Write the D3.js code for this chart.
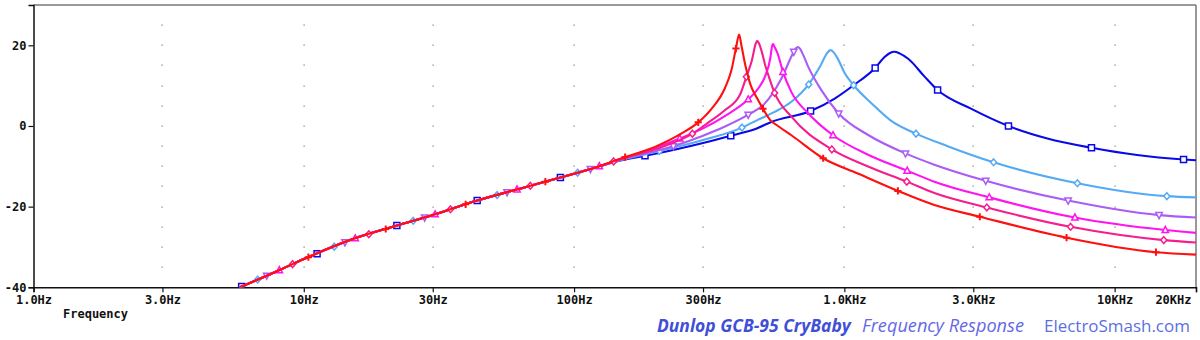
<!DOCTYPE html>
<html><head><meta charset="utf-8">
<script src="https://cdn.jsdelivr.net/npm/d3@7"></script>
<style>
html,body{margin:0;padding:0;background:#fff;}
svg{display:block;}
.ax text{font-family:"DejaVu Sans Mono",monospace;font-weight:bold;font-size:12px;fill:#111;}
</style></head>
<body><svg id="c" width="1200" height="340"></svg>
<script>
// ---- data ----
const xTickValues = [1, 3, 10, 30, 100, 300, 1000, 3000, 10000, 20000];
const xTickLabels = ["1.0Hz","3.0Hz","10Hz","30Hz","100Hz","300Hz","1.0KHz","3.0KHz","10KHz","20KHz"];
const yTickValues = [-40, -20, 0, 20];
const yTickLabels = ["-40","-20","0","20"];
const gridFreqs = [3, 10, 30, 100, 300, 1000, 3000, 10000];

// common low-frequency part shared by all traces
const lowFreq = [5.8, 8.15, 10, 15.1, 22.1, 30, 43.8, 65, 89, 120];
const lowDb   = [-40, -35.7, -33.0, -28.1, -24.7, -22.1, -18.5, -15.3, -12.8, -10.3];

const blueFreq = [150,183,300,380,474,537,750,921,1082,1300,1409,1475,1532,1600,1727,1977,2213,2940,4047,5640,8210,12110,17990,20000];
const blueDb   = [-8.5,-7.4,-4.2,-2.4,-0.6,1.0,3.7,6.8,10.1,14.4,17.1,18.1,18.4,18.0,16.6,12.3,8.9,4.3,0.0,-3.1,-5.4,-7.2,-8.3,-8.5];
const blueMarks = [5.89,11.2,22.1,43.8,89,183,380,750,1300,2213,4047,8210,17990];

const lightBlueFreq = [150,207,300,418,474,552,637,738,811,860,889,915,945,1005,1082,1262,1482,1841,2410,3565,7280,15600,20000];
const lightBlueDb   = [-8.4,-6.2,-3.5,-0.4,1.4,3.5,6.0,10.3,14.6,17.9,18.8,18.2,16.7,13.0,10.1,5.6,1.4,-1.9,-5.0,-9.0,-14.2,-17.4,-17.7];
const lightBlueMarks = [6.75,12.96,25.4,51.9,103,207,418,738,1082,1841,3565,7280,15600];

const purpleFreq = [150,233,300,360,441,508,585,650,662,673,686,700,736,822,953,1230,1683,2153,3335,6730,14600,20000];
const purpleDb   = [-8.3,-5.0,-2.4,-0.2,2.8,5.6,11.8,18.4,19.3,19.6,19.1,18.0,14.6,8.9,3.1,-2.3,-6.8,-9.6,-13.6,-18.5,-22.1,-22.7];
const purpleMarks = [7.29,14.2,28.0,56.5,115,233,441,650,953,1683,3335,6730,14600];

const magentaFreq = [150,246,300,360,441,480,508,533,539,545,552,566,593,637,736,908,1230,1708,2153,3436,7130,15400,20000];
const magentaDb   = [-8.2,-3.1,-0.6,2.4,6.6,9.3,12.2,17.1,19.5,20.3,19.6,18.0,13.4,8.4,3.1,-2.3,-7.2,-11.1,-13.8,-17.7,-22.7,-25.8,-26.5];
const magentaMarks = [8.12,15.5,30.6,61.5,124,246,441,593,908,1708,3436,7130,15400];

const pinkFreq = [150,205,274,310,361,410,434,455,470,476,483,493,510,530,552,637,899,1230,1702,2153,3365,6870,15200,20000];
const pinkDb   = [-8.1,-5.5,-1.9,0.6,3.9,7.6,12.2,16.3,20.4,21.1,20.5,18.8,15.0,11.5,8.2,2.3,-5.8,-10.1,-13.8,-16.6,-20.2,-25.0,-28.3,-28.9];
const pinkMarks = [9.09,17.4,34.9,68.9,140,274,434,552,899,1702,3365,6870,15200];

const redFreq = [150,205,249,288,323,361,382,397,408,416,430,448,480,500,533,568,637,835,1122,1578,2153,3170,6640,14220,20000];
const redDb   = [-8.0,-4.8,-1.9,0.9,4.3,9.3,13.8,19.2,22.7,20.0,15.1,10.5,6.4,4.3,1.4,0.0,-2.3,-8.0,-11.8,-16.1,-19.6,-22.5,-27.7,-31.3,-31.9];
const redMarks = [10.4,20.1,39.7,78.3,154.5,288,397,500,835,1578,3170,6640,14220];

const traces = [
  {freq: blueFreq, db: blueDb, marks: blueMarks, color: "#0a0ae6", shape: "square"},
  {freq: lightBlueFreq, db: lightBlueDb, marks: lightBlueMarks, color: "#55aaf5", shape: "diamond"},
  {freq: purpleFreq, db: purpleDb, marks: purpleMarks, color: "#aa5cf5", shape: "tridown"},
  {freq: magentaFreq, db: magentaDb, marks: magentaMarks, color: "#ff14f0", shape: "triup"},
  {freq: pinkFreq, db: pinkDb, marks: pinkMarks, color: "#f51e8c", shape: "diamond"},
  {freq: redFreq, db: redDb, marks: redMarks, color: "#ff1010", shape: "plus"}
];

// ---- layout ----
const L = 33.5, R = 1196, T = 5, B = 287.3;
const svg = d3.select("#c");
const x = d3.scaleLog().domain([1, 20000]).range([L, R]);
const y = d3.scaleLinear().domain([-40, 30]).range([B, T]);

svg.append("defs").append("clipPath").attr("id","clip")
  .append("rect").attr("x", L).attr("y", T).attr("width", R - L).attr("height", B - T);

// grid dots
const dotLevels = d3.range(-35, 30, 5);
const gg = svg.append("g");
gridFreqs.forEach(f => {
  gg.selectAll(null).data(dotLevels).enter().append("rect")
    .attr("x", Math.round(x(f)) - 0.5).attr("y", d => Math.round(y(d)) - 0.5)
    .attr("width", 1.2).attr("height", 1.2).attr("fill", "#777");
});

// frame
svg.append("line").attr("x1", L).attr("x2", R).attr("y1", T).attr("y2", T).attr("stroke", "#777").attr("stroke-width", 1.5);
svg.append("line").attr("x1", R).attr("x2", R).attr("y1", T).attr("y2", B).attr("stroke", "#777").attr("stroke-width", 1.5);

// axes
const xAxis = d3.axisBottom(x).tickValues(xTickValues).tickFormat((d,i) => xTickLabels[i]).tickSize(5).tickPadding(6);
const gx = svg.append("g").attr("class","ax").attr("transform", `translate(0,${B})`).call(xAxis);
gx.select(".domain").attr("stroke","#111").attr("stroke-width",1.5);
gx.selectAll(".tick line").attr("stroke","#111").attr("stroke-width",1.2);
gx.selectAll(".tick text").attr("dy","0.71em").attr("y", 8)
  .attr("text-anchor", (d) => d === 20000 ? "end" : "middle")
  .attr("dx", (d) => d === 20000 ? -5 : 0);

const yAxis = d3.axisLeft(y).tickValues(yTickValues).tickFormat((d,i) => yTickLabels[i]).tickSize(5).tickPadding(2);
const gy = svg.append("g").attr("class","ax").attr("transform", `translate(${L},0)`).call(yAxis);
gy.select(".domain").attr("stroke","#111").attr("stroke-width",1.5);
gy.selectAll(".tick line").attr("stroke","#111").attr("stroke-width",1.2);

svg.append("text").attr("class","axlbl").attr("x", 63).attr("y", 318)
  .style("font-family","DejaVu Sans Mono, monospace").style("font-weight","bold").style("font-size","12px").attr("fill","#111")
  .text("Frequency");

// traces
const line = d3.line().x(d => x(d[0])).y(d => y(d[1])).curve(d3.curveMonotoneX);
const plot = svg.append("g").attr("clip-path","url(#clip)");

function interpDb(fs, ds, f) {
  const lf = Math.log10(f);
  for (let i = 0; i < fs.length - 1; i++) {
    const a = Math.log10(fs[i]), b = Math.log10(fs[i+1]);
    if (lf >= a && lf <= b) { const t = (lf - a) / (b - a); return ds[i] + t * (ds[i+1] - ds[i]); }
  }
  return ds[ds.length - 1];
}

const sym = {
  square: "M-3,-3H3V3H-3Z",
  diamond: "M0,-3.4L3,0L0,3.4L-3,0Z",
  triup: "M0,-3.6L3.2,2.5H-3.2Z",
  tridown: "M0,3.6L3.2,-2.5H-3.2Z",
  plus: "M-3.6,0H3.6M0,-3.6V3.6"
};

traces.forEach(tr => {
  const fs = lowFreq.concat(tr.freq), ds = lowDb.concat(tr.db);
  const pts = fs.map((f, i) => [f, ds[i]]);
  plot.append("path").datum(pts).attr("d", line).attr("fill","none")
    .attr("stroke", tr.color).attr("stroke-width", 2.1).attr("stroke-linejoin","round");
  plot.selectAll(null).data(tr.marks).enter().append("path")
    .attr("transform", f => `translate(${x(f)},${y(interpDb(fs, ds, f))})`)
    .attr("d", sym[tr.shape])
    .attr("fill", tr.shape === "plus" ? "none" : "#fff")
    .attr("stroke", tr.color).attr("stroke-width", tr.shape === "plus" ? 2 : 1.5);
});

// footer
const footer = [
  {t: "Dunlop GCB-95 CryBaby", x: 657, w: 194, weight: "bold", style: "italic", color: "#3f4fd6"},
  {t: "Frequency Response", x: 862, w: 162, weight: "normal", style: "italic", color: "#6468e6"},
  {t: "ElectroSmash.com", x: 1044, w: 146, weight: "normal", style: "normal", color: "#5a6fe2"}
];
footer.forEach(f => {
  const tx = svg.append("text").attr("x", f.x).attr("y", 332)
    .style("font-family","'Open Sans', sans-serif").style("font-weight", f.weight).style("font-style", f.style)
    .style("font-size","16px").attr("fill", f.color).text(f.t);
  const w = tx.node().getComputedTextLength();
  tx.style("font-size", (16 * f.w / w).toFixed(2) + "px");
});
</script></body></html>
